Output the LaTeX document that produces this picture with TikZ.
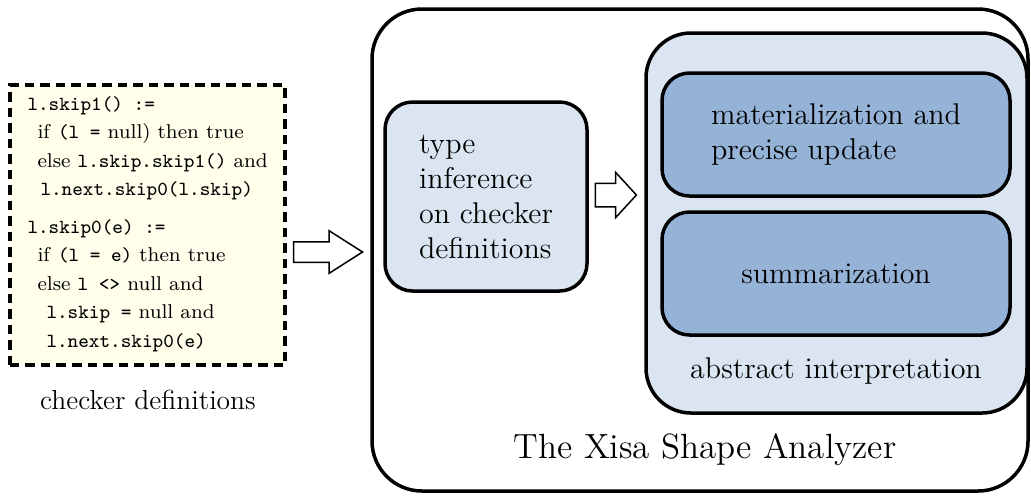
\documentclass[tikz,border=0pt]{standalone}
\usepackage{xcolor}
\usepackage{tikz}
\usetikzlibrary{shapes.arrows, positioning, calc}
\definecolor{XisaPale}{RGB}{255,255,236}
\definecolor{XisaLight}{RGB}{219,229,241}
\definecolor{XisaMid}{RGB}{149,179,215}
\tikzset{
  stagebox/.style={draw, line width=1.4pt, rounded corners=#1, inner sep=0pt},
  stagebox/.default=10pt,
  fatarrow/.style={draw, fill=white, line width=0.6pt, single arrow, inner xsep=0pt,
    single arrow head extend=#1, anchor=center},
  codetext/.style={align=left, inner sep=0pt, font=\fontsize{8}{11.4}\selectfont}
}

\begin{document}
\begin{tikzpicture}[x=0.4pt, y=-0.4pt]
  \useasboundingbox (0,0) rectangle (1031,495);

  % checker definitions
  \node[draw, fill=XisaPale, line width=1.3pt, dash pattern=on 3.8pt off 2.4pt,
        minimum width=110pt, minimum height=112pt] (code) at (147.5,225) {};
  \node[codetext, anchor=north west] (codelines) at (27,96) {
    \texttt{l.skip1() :=}\\
    \hspace{4pt}if \texttt{(l =} null) then true\\
    \hspace{4pt}else \texttt{l.skip.skip1()} and\\
    \hspace{5.2pt}\texttt{l.next.skip0(l.skip)}\\[3.6pt]
    \texttt{l.skip0(e) :=}\\
    \hspace{4pt}if \texttt{(l = e)} then true\\
    \hspace{4pt}else \texttt{l <>} null and\\
    \hspace{7.6pt}\texttt{l.skip =} null and\\
    \hspace{7.6pt}\texttt{l.next.skip0(e)}
  };
  \node[font=\fontsize{11}{13}\selectfont] (codelabel) at (148,400) {checker definitions};

  % the analyzer
  \node[stagebox=20pt, minimum width=262.4pt, minimum height=192.8pt] (xisa) at (700,250) {};
  \node[stagebox=11pt, fill=XisaLight, minimum width=80.8pt, minimum height=75.6pt,
        align=left, font=\large] (infer) at (486,196.5)
    {type\\ inference\\ on checker\\ definitions};
  \node[stagebox=18pt, fill=XisaLight, minimum width=152.4pt, minimum height=152pt] (absint) at (836.5,223) {};
  \node[stagebox=11pt, fill=XisaMid, minimum width=139.2pt, minimum height=49.2pt,
        align=left, font=\large] (mat) at (836,134.5) {materialization and\\ precise update};
  \node[stagebox=11pt, fill=XisaMid, minimum width=139.2pt, minimum height=49.2pt,
        font=\large] (summ) at (836,273.5) {summarization};
  \node[font=\large] (abslabel) at (836,371) {abstract interpretation};
  \node[font=\fontsize{14}{17}\selectfont] (xisalabel) at (705,450) {The Xisa Shape Analyzer};

  % hollow arrows
  \node[fatarrow=4.4pt, inner ysep=3.8pt, minimum height=27.6pt, minimum width=16.4pt,
        single arrow tip angle=65] (toxisa) at (320,252) {};
  \node[fatarrow=4.4pt, inner ysep=4.4pt, minimum height=16.4pt, minimum width=17.6pt,
        single arrow tip angle=95] (toabs) at (610.5,195) {};
\end{tikzpicture}
\end{document}
